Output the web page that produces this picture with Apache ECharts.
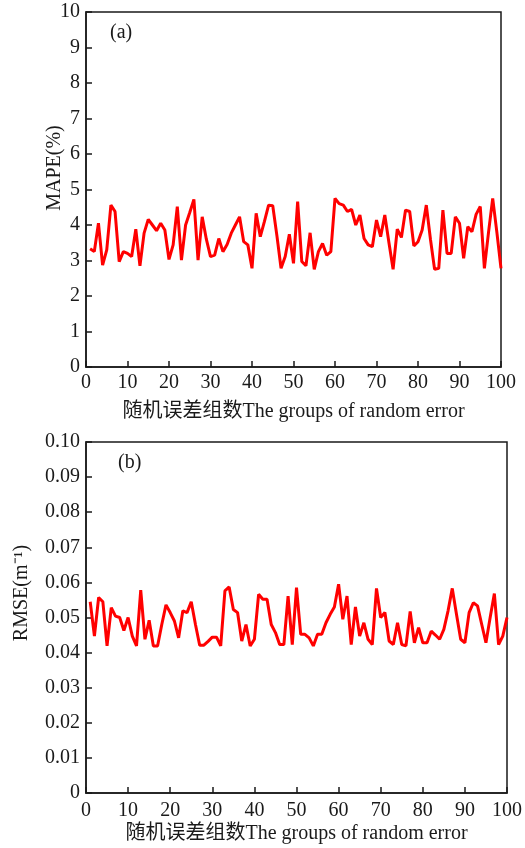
<!DOCTYPE html>
<html><head><meta charset="utf-8">
<script src="https://cdn.jsdelivr.net/npm/echarts@6/dist/echarts.min.js"></script>
<style>html,body{margin:0;padding:0;background:#fff}#c{width:525px;height:848px}</style>
</head><body><div id="c"></div>
<script>
const groups = [1,2,3,4,5,6,7,8,9,10,11,12,13,14,15,16,17,18,19,20,21,22,23,24,25,26,27,28,29,30,31,32,33,34,35,36,37,38,39,40,41,42,43,44,45,46,47,48,49,50,51,52,53,54,55,56,57,58,59,60,61,62,63,64,65,66,67,68,69,70,71,72,73,74,75,76,77,78,79,80,81,82,83,84,85,86,87,88,89,90,91,92,93,94,95,96,97,98,99,100];
const mape = [3.33,3.25,4.05,2.87,3.30,4.56,4.38,2.97,3.25,3.20,
3.11,3.88,2.85,3.77,4.16,4.00,3.84,4.05,3.86,3.03,
3.44,4.52,3.01,4.00,4.35,4.72,3.01,4.23,3.60,3.11,
3.15,3.62,3.25,3.45,3.77,4.00,4.23,3.53,3.44,2.78,
4.33,3.67,4.10,4.56,4.54,3.70,2.78,3.11,3.74,2.92,
4.66,2.97,2.85,3.78,2.75,3.25,3.48,3.15,3.25,4.75,
4.60,4.56,4.38,4.44,4.00,4.28,3.62,3.44,3.39,4.14,
3.67,4.28,3.50,2.75,3.88,3.65,4.42,4.38,3.41,3.53,
3.86,4.56,3.60,2.75,2.78,4.42,3.20,3.20,4.23,4.05,
3.06,3.95,3.81,4.30,4.52,2.78,3.80,4.75,3.80,2.78];
const rmse = [0.0545,0.0447,0.0557,0.0545,0.0419,0.0528,0.0504,0.0500,0.0463,0.0500,
0.0447,0.0419,0.0578,0.0438,0.0492,0.0419,0.0419,0.0480,0.0536,0.0514,
0.0490,0.0442,0.0519,0.0514,0.0545,0.0480,0.0421,0.0421,0.0432,0.0444,
0.0444,0.0419,0.0576,0.0587,0.0523,0.0514,0.0433,0.0480,0.0419,0.0438,
0.0566,0.0552,0.0552,0.0480,0.0457,0.0423,0.0423,0.0561,0.0423,0.0585,
0.0452,0.0452,0.0442,0.0419,0.0452,0.0452,0.0485,0.0509,0.0530,0.0595,
0.0495,0.0561,0.0423,0.0530,0.0447,0.0485,0.0438,0.0423,0.0583,0.0500,
0.0514,0.0433,0.0423,0.0485,0.0423,0.0419,0.0517,0.0428,0.0471,0.0428,
0.0428,0.0461,0.0450,0.0438,0.0466,0.0519,0.0583,0.0509,0.0438,0.0428,
0.0514,0.0542,0.0533,0.0480,0.0428,0.0500,0.0568,0.0423,0.0447,0.0500];
const xTickLabels = ['0','10','20','30','40','50','60','70','80','90','100'];
const yTickLabelsA = ['0','1','2','3','4','5','6','7','8','9','10'];
const yTickLabelsB = ['0','0.01','0.02','0.03','0.04','0.05','0.06','0.07','0.08','0.09','0.10'];
const xName = '随机误差组数The groups of random error';
const yNameA = 'MAPE(%)';
const yNameB = 'RMSE(m⁻¹)';
const panelA = '(a)';
const panelB = '(b)';

const FONT = "'Liberation Serif', 'Noto Sans CJK SC', serif";
const ink = '#1a1a1a';
const chart = echarts.init(document.getElementById('c'), null, {renderer:'canvas'});

function xAx(idx){
  return {
    gridIndex: idx, type:'value', min:0, max:100, interval:10,
    name: xName, nameLocation:'middle', nameGap: idx===0 ? 35 : 31,
    nameTextStyle:{fontFamily:FONT, fontSize:20, color:ink, verticalAlign:'top'},
    axisLine:{show:true, onZero:false, lineStyle:{color:ink, width:1.5}},
    axisTick:{show:true, inside:true, length:6, lineStyle:{color:ink, width:1.5}},
    axisLabel:{fontFamily:FONT, fontSize:20, color:ink, margin: idx===0 ? 6 : 8,
      formatter: v => xTickLabels[Math.round(v/10)]},
    splitLine:{show:false}
  };
}
function yAx(idx, max, interval, labels, scale){
  return {
    gridIndex: idx, type:'value', min:0, max:max, interval:interval,
    axisLine:{show:true, lineStyle:{color:ink, width:1.5}},
    axisTick:{show:true, inside:true, length:6, lineStyle:{color:ink, width:1.5}},
    axisLabel:{fontFamily:FONT, fontSize:20, color:ink, margin:6,
      formatter: v => labels[Math.round(v*scale)]},
    splitLine:{show:false}
  };
}

chart.setOption({
  animation:false,
  backgroundColor:'#fff',
  grid:[
    {left:86, top:12, width:415, height:355, show:true, borderColor:ink, borderWidth:1.5, backgroundColor:'transparent'},
    {left:86, top:442, width:421, height:351, show:true, borderColor:ink, borderWidth:1.5, backgroundColor:'transparent'}
  ],
  xAxis:[xAx(0), xAx(1)],
  yAxis:[yAx(0,10,1,yTickLabelsA,1), yAx(1,0.1,0.01,yTickLabelsB,100)],
  series:[
    {type:'line', xAxisIndex:0, yAxisIndex:0, data: groups.map((g,i)=>[g, mape[i]]),
     showSymbol:false, lineStyle:{color:'#ff0000', width:3}, itemStyle:{color:'#ff0000'}},
    {type:'line', xAxisIndex:1, yAxisIndex:1, data: groups.map((g,i)=>[g, rmse[i]]),
     showSymbol:false, lineStyle:{color:'#ff0000', width:3}, itemStyle:{color:'#ff0000'}}
  ],
  graphic:[
    {type:'text', x:55, y:168, rotation:Math.PI/2,
     style:{text:yNameA, font:"20px "+FONT, fill:ink, textAlign:'center', textVerticalAlign:'middle'}},
    {type:'text', x:22, y:593, rotation:Math.PI/2,
     style:{text:yNameB, font:"20px "+FONT, fill:ink, textAlign:'center', textVerticalAlign:'middle'}},
    {type:'text', x:110, y:33,
     style:{text:panelA, font:"20px "+FONT, fill:ink, textAlign:'left', textVerticalAlign:'middle'}},
    {type:'text', x:118, y:463,
     style:{text:panelB, font:"20px "+FONT, fill:ink, textAlign:'left', textVerticalAlign:'middle'}}
  ]
});
</script>
</body></html>
